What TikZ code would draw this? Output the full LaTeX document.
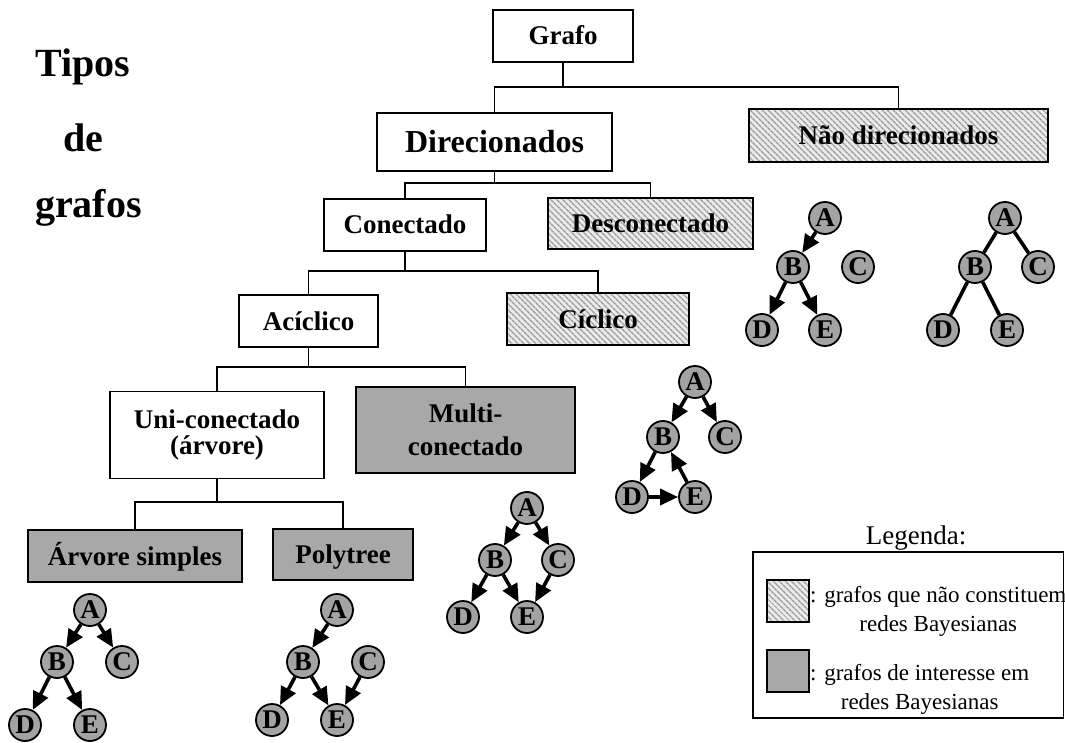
\documentclass[tikz,border=0pt]{standalone}
\usepackage{fontspec}
\setmainfont{Liberation Serif}
\usetikzlibrary{arrows.meta,patterns.meta}

\tikzset{
  boxbase/.style={draw, line width=1.6pt, inner sep=0pt,
    font=\bfseries\fontsize{27}{30}\selectfont},
  oneline/.style={text height=18pt, text depth=0pt},
  plainbox/.style={boxbase, oneline, fill=white},
  hatchfill/.style={preaction={fill=black!8},
    preaction={pattern={Lines[angle=-45,distance=4pt,line width=1.4pt]}, pattern color=black!40}},
  hatchbox/.style={boxbase, oneline, hatchfill},
  graybox/.style={boxbase, oneline, fill=black!34},
  conn/.style={line width=1.6pt},
  vert/.style={circle, draw, line width=1.8pt, fill=black!36, minimum size=32pt,
    inner sep=0pt, font=\bfseries\fontsize{27}{27}\selectfont},
  arr/.style={line width=3.6pt, -{Triangle[length=18pt,width=16pt]}},
  edg/.style={line width=3.6pt},
  titletext/.style={anchor=base west, inner sep=0pt, font=\bfseries\fontsize{40}{44}\selectfont},
  legtext/.style={inner sep=0pt, align=center, font=\fontsize{23}{29}\selectfont},
  swatch/.style={draw, line width=1.3pt, minimum size=42pt, inner sep=0pt}
}

\begin{document}
\begin{tikzpicture}[x=1pt,y=-1pt]
\useasboundingbox (0,0) rectangle (1065,743);

% title
\node[titletext] (t1) at (35,77) {Tipos};
\node[titletext] (t2) at (63,152) {de};
\node[titletext] (t3) at (35,218) {grafos};

% classification boxes
\node[plainbox, minimum width=140pt, minimum height=52pt] (grafo) at (563,36) {Grafo};
\node[plainbox, minimum width=235pt, minimum height=58pt,
  font=\bfseries\fontsize{32}{36}\selectfont, text height=21pt] (dir) at (494.5,142) {Direcionados};
\node[hatchbox, minimum width=299pt, minimum height=53pt] (nao) at (898.5,135.5) {Não direcionados};
\node[plainbox, minimum width=162pt, minimum height=52pt] (con) at (405,225) {Conectado};
\node[hatchbox, minimum width=205pt, minimum height=51pt] (des) at (650.5,223.5) {Desconectado};
\node[plainbox, minimum width=139pt, minimum height=52pt] (aci) at (308.5,321) {Acíclico};
\node[hatchbox, minimum width=182pt, minimum height=52pt] (cic) at (598,319) {Cíclico};
\node[boxbase, fill=white, align=center, font=\bfseries\fontsize{27}{26}\selectfont,
  minimum width=214pt, minimum height=87pt] (uni) at (217,435) {Uni-conectado\\(árvore)};
\node[boxbase, fill=black!34, align=center, font=\bfseries\fontsize{27}{33}\selectfont,
  minimum width=219pt, minimum height=86pt] (mul) at (465.5,430) {Multi-\\conectado};
\node[graybox, minimum width=214pt, minimum height=52pt] (arv) at (135,556) {Árvore simples};
\node[graybox, minimum width=140pt, minimum height=51pt] (pol) at (343,554.5) {Polytree};

% tree connectors
\coordinate (j1) at (grafo.south |- 0,87);
\draw[conn] (grafo.south) -- (j1) -| (dir.north);
\draw[conn] (j1) -| (nao.north);
\coordinate (j2) at (dir.south |- 0,183);
\draw[conn] (dir.south) -- (j2) -| (con.north);
\draw[conn] (j2) -| (des.north);
\coordinate (j3) at (con.south |- 0,271);
\draw[conn] (con.south) -- (j3) -| (aci.north);
\draw[conn] (j3) -| (cic.north);
\coordinate (j4) at (aci.south |- 0,367);
\draw[conn] (aci.south) -- (j4) -| (uni.north);
\draw[conn] (j4) -| (mul.north);
\coordinate (j5) at (uni.south |- 0,502);
\draw[conn] (uni.south) -- (j5) -| (arv.north);
\draw[conn] (j5) -| (pol.north);

% disconnected directed graph
\node[vert] (dA) at (825,218) {A};
\node[vert] (dB) at (793,267) {B};
\node[vert] (dC) at (858,267) {C};
\node[vert] (dD) at (762,330) {D};
\node[vert] (dE) at (825,330) {E};
\draw[arr] (dA) -- (dB);
\draw[arr] (dB) -- (dD);
\draw[arr] (dB) -- (dE);

% undirected graph
\node[vert] (uA) at (1005,218) {A};
\node[vert] (uB) at (975,267) {B};
\node[vert] (uC) at (1038,267) {C};
\node[vert] (uD) at (943,330) {D};
\node[vert] (uE) at (1007,330) {E};
\draw[edg] (uA) -- (uB);
\draw[edg] (uA) -- (uC);
\draw[edg] (uB) -- (uD);
\draw[edg] (uB) -- (uE);

% cyclic graph
\node[vert] (cA) at (695,382) {A};
\node[vert] (cB) at (663,437) {B};
\node[vert] (cC) at (725,437) {C};
\node[vert] (cD) at (632,497) {D};
\node[vert] (cE) at (695,497) {E};
\draw[arr] (cA) -- (cB);
\draw[arr] (cA) -- (cC);
\draw[arr] (cB) -- (cD);
\draw[arr] (cD) -- (cE);
\draw[arr] (cE) -- (cB);

% multiply connected graph
\node[vert] (mA) at (527,508) {A};
\node[vert] (mB) at (495,560) {B};
\node[vert] (mC) at (558,560) {C};
\node[vert] (mD) at (463,617) {D};
\node[vert] (mE) at (527,617) {E};
\draw[arr] (mA) -- (mB);
\draw[arr] (mA) -- (mC);
\draw[arr] (mB) -- (mD);
\draw[arr] (mB) -- (mE);
\draw[arr] (mC) -- (mE);

% simple tree
\node[vert] (sA) at (90,610) {A};
\node[vert] (sB) at (57,662) {B};
\node[vert] (sC) at (122,662) {C};
\node[vert] (sD) at (25,725) {D};
\node[vert] (sE) at (90,725) {E};
\draw[arr] (sA) -- (sB);
\draw[arr] (sA) -- (sC);
\draw[arr] (sB) -- (sD);
\draw[arr] (sB) -- (sE);

% polytree
\node[vert] (pA) at (337,610) {A};
\node[vert] (pB) at (303,662) {B};
\node[vert] (pC) at (368,662) {C};
\node[vert] (pD) at (272,720) {D};
\node[vert] (pE) at (337,720) {E};
\draw[arr] (pA) -- (pB);
\draw[arr] (pB) -- (pD);
\draw[arr] (pB) -- (pE);
\draw[arr] (pC) -- (pE);

% legend
\node[anchor=base, inner sep=0pt, font=\fontsize{27}{30}\selectfont] (leg) at (916,544) {Legenda:};
\node[draw, line width=1.6pt, minimum width=310.5pt, minimum height=166pt, inner sep=0pt] (legbox) at (908.25,635) {};
\node[swatch, hatchfill] (sw1) at (788,601) {};
\node[swatch, fill=black!34] (sw2) at (788,671) {};
\node[legtext, anchor=base west] (lt1) at (810,631) {: grafos que não constituem\\redes Bayesianas};
\node[legtext, anchor=base west] (lt2) at (810,709) {: grafos de interesse em\\redes Bayesianas};
\end{tikzpicture}
\end{document}
